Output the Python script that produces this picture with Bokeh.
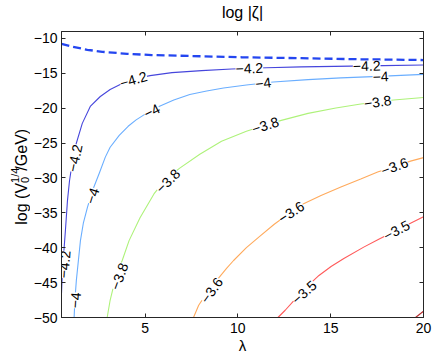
from bokeh.plotting import figure
from bokeh.layouts import row
from bokeh.models import LinearAxis, FixedTicker, ColumnDataSource, Range1d
from bokeh.core.properties import value
from bokeh.embed import file_html
from bokeh.resources import INLINE

FONT = "Liberation Sans"

# ---- data ----
title_text = "log |\u03b6|"
x_label = "\u03bb"
x_ticks = [5, 10, 15, 20]
y_ticks = [-50, -45, -40, -35, -30, -25, -20, -15, -10]
y_tick_labels = ["\u221250", "\u221245", "\u221240", "\u221235", "\u221230",
                 "\u221225", "\u221220", "\u221215", "\u221210"]

# dashed boundary curve
bound_x = [0.5, 1.09, 1.89, 2.70, 4.04, 5.37, 8.05, 10.19, 13.41, 16.62, 20.0]
bound_y = [-10.77, -11.19, -11.62, -11.91, -12.20, -12.38, -12.55, -12.69, -12.83, -12.98, -13.09]

# contour level -4.2
c42_x = [0.5, 0.55, 0.63, 0.71, 0.82, 0.93, 1.09, 1.25, 1.62, 2.05, 2.59, 3.12, 3.77,
         4.57, 5.27, 6.45, 8.05, 9.66, 11.53, 13.41, 16.09, 17.85, 20.0]
c42_y = [-46.54, -43.26, -40.41, -37.56, -33.28, -30.43, -27.58, -25.45, -22.17, -19.74,
         -18.32, -17.32, -16.47, -15.75, -15.33, -14.90, -14.61, -14.37, -14.19, -14.07,
         -13.96, -13.89, -13.80]

# contour level -4
c40_x = [1.18, 1.22, 1.30, 1.41, 1.52, 1.68, 1.89, 2.16, 2.54, 2.86, 3.12, 3.61, 4.09,
         4.52, 5.11, 5.75, 6.55, 7.41, 8.32, 9.23, 10.46, 11.91, 13.78, 15.55, 17.26, 20.0]
c40_y = [-50.0, -47.53, -44.68, -41.83, -38.98, -36.42, -34.28, -31.86, -29.29, -27.01,
         -25.59, -23.88, -22.59, -21.67, -20.67, -19.74, -18.82, -18.03, -17.54, -17.11,
         -16.68, -16.25, -15.90, -15.65, -15.47, -15.14]

# contour level -3.8
c38_x = [2.96, 3.12, 3.34, 3.55, 3.77, 4.14, 4.73, 5.48, 6.12, 6.87, 7.95, 9.12, 10.46,
         11.37, 12.34, 13.78, 15.28, 16.62, 18.39, 20.0]
c38_y = [-50.0, -47.53, -45.11, -43.26, -41.83, -38.98, -35.71, -32.29, -30.15, -28.58,
         -26.59, -24.73, -23.31, -22.52, -21.74, -20.74, -19.96, -19.39, -18.82, -18.46]

# contour level -3.6
c36_x = [7.61, 7.89, 8.32, 8.86, 9.39, 9.77, 10.46, 11.16, 11.96, 12.87, 13.57, 14.48,
         15.55, 16.62, 17.53, 18.50, 19.30, 20.0]
c36_y = [-50.0, -48.25, -46.54, -44.68, -42.97, -41.83, -39.98, -38.41, -36.63, -34.85,
         -33.64, -32.50, -31.29, -30.15, -29.15, -28.30, -27.58, -27.08]

# contour level -3.5
c35_x = [12.16, 12.55, 13.03, 13.68, 14.37, 15.02, 15.71, 16.78, 17.59, 18.50, 19.30, 20.0]
c35_y = [-50.0, -48.96, -47.53, -45.68, -43.97, -42.69, -41.55, -39.91, -38.77, -37.56,
         -36.49, -35.56]

# contour level -3.4 (corner)
c34_x = [19.57, 20.0]
c34_y = [-50.0, -49.1]

levels_x = [c42_x, c40_x, c38_x, c36_x, c35_x, c34_x]
levels_y = [c42_y, c40_y, c38_y, c36_y, c35_y, c34_y]
level_colors = ["#4646dc", "#6aaeff", "#aef27a", "#ffaa5c", "#ff5a5a", "#b42828"]

# inline contour labels
lab_text = ["\u22124.2"] * 5 + ["\u22124"] * 5 + ["\u22123.8"] * 4 + ["\u22123.6"] * 3 + ["\u22123.5"] * 2
lab_x = [0.66, 1.22, 4.38, 10.62, 16.94,
         1.25, 2.16, 5.37, 11.37, 17.69,
         3.61, 6.23, 11.48, 17.53,
         8.59, 12.87, 18.44,
         13.57, 18.55]
lab_y = [-42.40, -27.16, -15.90, -14.27, -13.93,
         -47.53, -32.57, -20.40, -16.40, -15.45,
         -44.11, -30.43, -22.45, -19.10,
         -46.11, -34.90, -28.35,
         -46.39, -37.50]
lab_angle = [86, 78, 17, 2, 2,
             86, 72, 27, 7, 3,
             70, 45, 18, 8,
             55, 33, 20,
             42, 28]

# y-axis label pieces
ylab_text = ["log (V", "1/4", "0", "/GeV)"]

# ---- main figure ----
AX = "#262626"
p = figure(width=406, height=356, x_range=(0.5, 20), y_range=(-50, -9),
           output_backend="svg", toolbar_location=None, title=None,
           min_border_left=29, min_border_right=13, min_border_top=29, min_border_bottom=39,
           background_fill_color="white", border_fill_color="white")
p.xgrid.visible = False
p.ygrid.visible = False
p.outline_line_color = AX


def style(ax, ticks, show):
    ax.ticker = FixedTicker(ticks=ticks)
    ax.major_tick_in = 4
    ax.major_tick_out = 0
    ax.minor_tick_in = 0
    ax.minor_tick_out = 0
    ax.axis_line_color = AX
    ax.major_tick_line_color = AX
    ax.major_label_text_font = FONT
    ax.axis_label_text_font = FONT
    ax.axis_label_text_font_style = "normal"
    ax.axis_label_text_color = "black"
    if show:
        ax.major_label_text_font_size = "14px"
        ax.major_label_text_color = "black"
    else:
        ax.major_label_text_font_size = "0px"
        ax.major_label_text_color = None
        ax.major_label_standoff = 0
        ax.major_label_overrides = {t: "" for t in ticks}


style(p.xaxis[0], x_ticks, True)
style(p.yaxis[0], y_ticks, True)
p.yaxis[0].major_label_overrides = {t: s for t, s in zip(y_ticks, y_tick_labels)}
p.yaxis[0].major_label_standoff = 4
p.xaxis[0].major_label_standoff = 5
p.xaxis[0].axis_label = x_label
p.xaxis[0].axis_label_text_font_size = "15px"
p.xaxis[0].axis_label_standoff = 1

# top axis carries the title as its label
top = LinearAxis()
style(top, x_ticks, False)
top.axis_label = title_text
top.axis_label_text_font_size = "16px"
top.axis_label_standoff = 11
p.add_layout(top, "above")

right = LinearAxis()
style(right, y_ticks, False)
p.add_layout(right, "right")

# boundary
p.line(bound_x, bound_y, line_color="#2446f0", line_width=2.3, line_dash="8 4")

# contour lines
for xs, ys, c in zip(levels_x, levels_y, level_colors):
    p.line(xs, ys, line_color=c, line_width=1.1)

src = ColumnDataSource(dict(x=lab_x, y=lab_y, text=lab_text, angle=lab_angle))
p.text(x="x", y="y", text="text", angle="angle", angle_units="deg", source=src,
       text_font=value(FONT), text_font_size="14px", text_align="center",
       text_baseline="middle", text_color="black",
       background_fill_color="white", padding=0)

# ---- y-axis label panel (pixel coordinates, y upward) ----
W, H = 30, 356
ylab = figure(width=W, height=H, x_range=Range1d(0, W), y_range=Range1d(0, H),
              output_backend="svg", toolbar_location=None, title=None,
              x_axis_location=None, y_axis_location=None,
              min_border_left=0, min_border_right=0, min_border_top=0, min_border_bottom=0,
              background_fill_color="white", border_fill_color="white")
ylab.grid.visible = False
ylab.outline_line_color = None

fs, ss = 16, 11
wsup = 1.39 * ss         # advance of "1/4"
base_x = 20.5
y_joint = H - 188.5      # where the scripts start (page y 188.5)
ylab_src = ColumnDataSource(dict(
    x=[base_x, base_x - 6, base_x + 4, base_x],
    y=[y_joint, y_joint, y_joint, y_joint + wsup],
    text=ylab_text,
    size=[f"{fs}px", f"{ss}px", f"{ss}px", f"{fs}px"],
    align=["right", "left", "left", "left"],
))
ylab.text(x="x", y="y", text="text", source=ylab_src, angle=90, angle_units="deg",
          text_font=value(FONT), text_font_size="size", text_align="align",
          text_baseline="alphabetic", text_color="black")

layout = row(ylab, p)
open("out.html", "w").write(file_html(layout, INLINE))
